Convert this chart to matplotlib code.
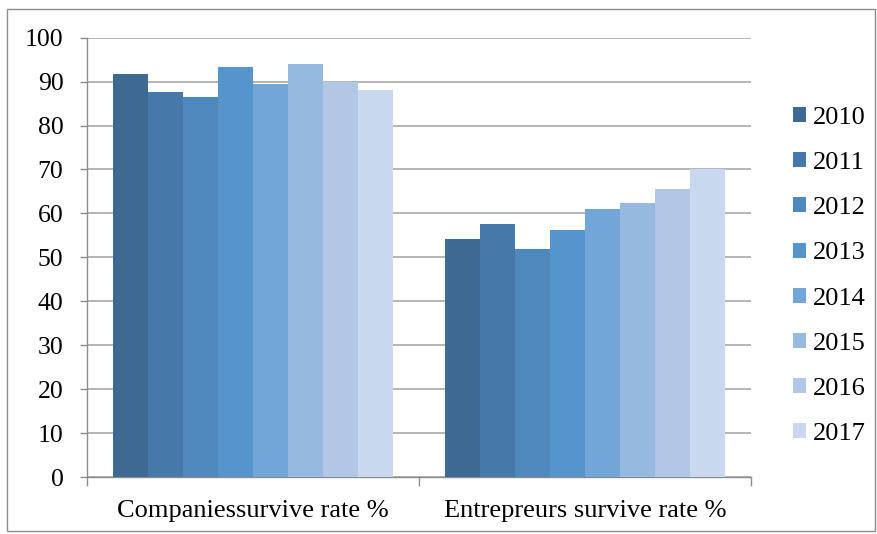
import matplotlib
matplotlib.use("Agg")
import matplotlib.pyplot as plt
from matplotlib.patches import Rectangle
import numpy as np

categories = ["Companiessurvive rate %", "Entrepreurs survive rate %"]
years = ["2010", "2011", "2012", "2013", "2014", "2015", "2016", "2017"]
values = {
    "2010": [91.8, 54.2],
    "2011": [87.7, 57.6],
    "2012": [86.6, 51.8],
    "2013": [93.3, 56.2],
    "2014": [89.5, 61.1],
    "2015": [94.1, 62.4],
    "2016": [90.0, 65.5],
    "2017": [88.0, 70.0],
}
colors = ["#3D6992", "#4679A9", "#4E88BD", "#5595CC", "#72A6D9", "#97B8DF", "#B0C7E5", "#C9D8EE"]
yticks = [0, 10, 20, 30, 40, 50, 60, 70, 80, 90, 100]

plt.rcParams['font.family'] = ['Liberation Serif', 'DejaVu Serif']

fig = plt.figure(figsize=(8.78, 5.34), dpi=100)
ax = fig.add_axes([87/878, 1-477/534, (751-87)/878, (477-37.7)/534])

n = len(years)
w = 1.0 / (n + 1.5)
x = np.arange(len(categories))
for i, (yr, c) in enumerate(zip(years, colors)):
    offs = (i - (n - 1) / 2) * w
    ax.bar(x + offs, values[yr], width=w, color=c, label=yr, zorder=3, linewidth=0)

ax.set_xlim(-0.5, len(categories) - 0.5)
ax.set_ylim(0, 100)
ax.set_yticks(yticks)
ax.set_yticklabels([str(t) for t in yticks], fontsize=18.5)
ax.set_xticks(x)
ax.set_xticklabels(categories, fontsize=19)
ax.set_xticks(np.arange(len(categories) + 1) - 0.5, minor=True)
ax.tick_params(axis='x', which='major', length=0, pad=16.5)
ax.tick_params(axis='x', which='minor', length=6.5, color='#8C8C8C', width=1)
ax.tick_params(axis='y', length=5, color='#8C8C8C', width=1, pad=12)
ax.yaxis.grid(True, color='#A0A0A0', linewidth=1.1, zorder=0)
ax.set_axisbelow(True)
for s in ['top', 'right']:
    ax.spines[s].set_visible(False)
for s in ['left', 'bottom']:
    ax.spines[s].set_color('#8C8C8C')
    ax.spines[s].set_linewidth(1)

leg = fig.legend(loc='center left', bbox_to_anchor=(793/878, 1-276/534), frameon=False,
                 fontsize=19, handlelength=0.5, handleheight=0.5, handletextpad=0.25,
                 labelspacing=0.88, borderpad=0, borderaxespad=0)

fig.patches.append(Rectangle((7/878, 1-531/534), (875-7)/878, (531-9)/534,
                             transform=fig.transFigure, fill=False, edgecolor='#8C8C8C', linewidth=1))

fig.savefig("out.png", dpi=100)
